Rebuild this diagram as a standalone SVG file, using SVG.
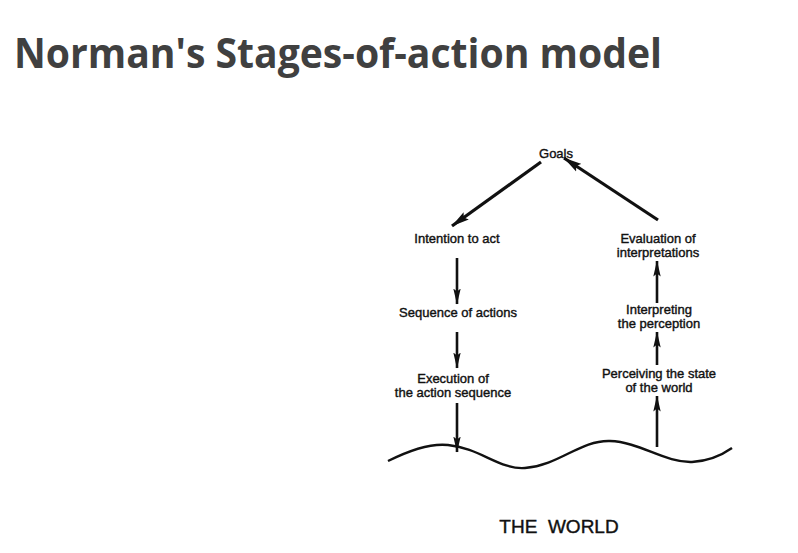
<svg xmlns="http://www.w3.org/2000/svg" width="798" height="553" viewBox="0 0 798 553">
<style>
.title{font-family:"Open Sans","Liberation Sans",sans-serif;font-weight:bold;font-size:42px;fill:#404040}
.lbl{font-family:"Liberation Sans",Arial,sans-serif;font-size:13px;fill:#111;text-anchor:middle;stroke:#111;stroke-width:0.4}
.world{font-family:"Liberation Sans",Arial,sans-serif;font-size:19px;fill:#111;text-anchor:middle;white-space:pre;stroke:#111;stroke-width:0.4}
.arr{stroke:#111;stroke-width:2.6;fill:none;marker-end:url(#ah)}
.diag{stroke:#111;stroke-width:3.2;fill:none;marker-end:url(#ahd)}
</style>
<defs>
<marker id="ah" viewBox="0 0 16 8" refX="15.5" refY="4" markerWidth="16" markerHeight="8" markerUnits="userSpaceOnUse" orient="auto">
<path d="M0,0.3 L16,4 L0,7.7 L3,4 Z" fill="#111"/>
</marker>
<marker id="ahd" viewBox="0 0 18 10" refX="17.5" refY="5" markerWidth="18" markerHeight="10" markerUnits="userSpaceOnUse" orient="auto">
<path d="M0,0.5 L18,5 L0,9.5 L3,5 Z" fill="#111"/>
</marker>
</defs>
<rect width="798" height="553" fill="#fff"/>
<text class="title" x="14" y="68" textLength="648" lengthAdjust="spacingAndGlyphs">Norman's Stages-of-action model</text>

<g id="connectors">
<line class="diag" x1="541" y1="162" x2="452" y2="226"/>
<line class="diag" x1="658" y1="220" x2="564" y2="158"/>
<line class="arr" x1="457" y1="258" x2="457" y2="304"/>
<line class="arr" x1="457" y1="332" x2="457" y2="368"/>
<line class="arr" x1="457" y1="403" x2="457" y2="452"/>
<line class="arr" x1="657" y1="447" x2="657" y2="396"/>
<line class="arr" x1="657" y1="365" x2="657" y2="332"/>
<line class="arr" x1="657" y1="303" x2="657" y2="261"/>
</g>

<g id="goals"><text class="lbl" x="556" y="157.5">Goals</text></g>
<g id="intention"><text class="lbl" x="457" y="242.5">Intention to act</text></g>
<g id="sequence"><text class="lbl" x="458" y="316.5">Sequence of actions</text></g>
<g id="execution"><text class="lbl" x="453" y="382.5">Execution of</text><text class="lbl" x="453" y="396.5">the action sequence</text></g>
<g id="evaluation"><text class="lbl" x="658" y="242.5">Evaluation of</text><text class="lbl" x="658" y="257">interpretations</text></g>
<g id="interpreting"><text class="lbl" x="659" y="314">Interpreting</text><text class="lbl" x="659" y="328">the perception</text></g>
<g id="perceiving"><text class="lbl" x="659" y="377.5">Perceiving the state</text><text class="lbl" x="659" y="391.5">of the world</text></g>

<g id="world">
<path d="M388,461 C410,450 430,443 448,445 C480,448 500,470 525,468 C560,465 580,440 610,441 C640,442 665,463 692,462 C710,461 722,455 732,448" stroke="#111" stroke-width="2.4" fill="none"/>
<text class="world" x="559" y="533">THE  WORLD</text>
</g>
</svg>
